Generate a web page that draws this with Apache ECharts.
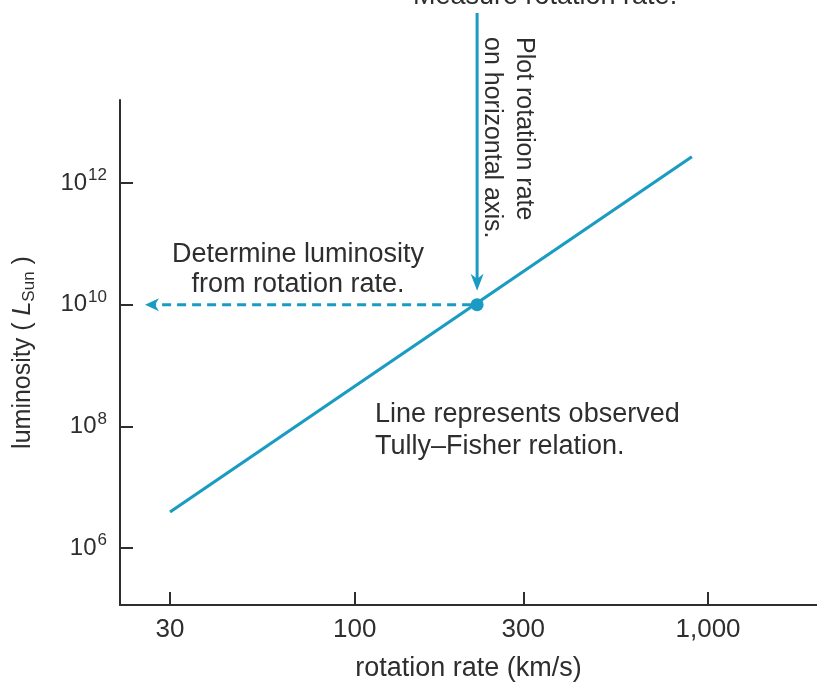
<!DOCTYPE html>
<html>
<head>
<meta charset="utf-8">
<script src="https://cdn.jsdelivr.net/npm/echarts@6/dist/echarts.min.js"></script>
<style>
  html, body { margin: 0; padding: 0; background: #fff; }
  #container { width: 817px; height: 687px; }
</style>
</head>
<body>
<div id="container"></div>
<script>
'use strict';

// tick values on the two log axes
let rotationTicks = [30, 100, 300, 1000];
let luminosityTicks = [1e6, 1e8, 1e10, 1e12];

// observed Tully-Fisher line, end points
let relationSpeed = [30, 900];
let relationLum = [3.9e6, 2.7e12];

// the example galaxy
let galaxySpeed = [222];
let galaxyLum = [1e10];

let teal = '#1a9cc2';
let ink = '#2e2e2e';
let font = "'Liberation Sans', Arial, sans-serif";

function lg(v) {
  return Math.log10(v);
}

function pairs(xs, ys) {
  return xs.map(function(x, i) { return [lg(x), lg(ys[i])]; });
}

function getOptions() {
  return {
    animation: false,
    grid: { left: 120, right: 0, top: 100, bottom: 82 },
    xAxis: {
      type: 'value',
      min: 1.3356,
      max: 3.3084,
      name: 'rotation rate (km/s)',
      nameLocation: 'middle',
      nameGap: 50,
      nameTextStyle: { fontSize: 27, color: ink, fontFamily: font },
      splitLine: { show: false },
      axisLine: { lineStyle: { color: ink, width: 2 } },
      axisTick: {
        inside: true, length: 13,
        customValues: rotationTicks.map(lg),
        lineStyle: { color: ink, width: 2 }
      },
      axisLabel: {
        customValues: rotationTicks.map(lg),
        margin: 12,
        fontSize: 26,
        color: ink,
        fontFamily: font,
        formatter: function(v) {
          return Math.round(Math.pow(10, v)).toLocaleString('en-US');
        }
      }
    },
    yAxis: {
      type: 'value',
      min: 5.063,
      max: 13.364,
      name: 'luminosity ( {i|L}{sub|Sun} )',
      nameLocation: 'middle',
      nameGap: 82,
      nameRotate: 90,
      nameTextStyle: {
        fontSize: 25, color: ink, fontFamily: font,
        rich: {
          i: { fontSize: 25, fontStyle: 'italic', color: ink, fontFamily: font },
          sub: { fontSize: 17, color: ink, fontFamily: font, padding: [12, 0, 0, 0] }
        }
      },
      splitLine: { show: false },
      axisLine: { lineStyle: { color: ink, width: 2 } },
      axisTick: {
        inside: true, length: 13,
        customValues: luminosityTicks.map(lg),
        lineStyle: { color: ink, width: 2 }
      },
      axisLabel: {
        customValues: luminosityTicks.map(lg),
        margin: 13,
        color: ink,
        fontFamily: font,
        formatter: function(v) {
          return '{b|10}{sup|' + Math.round(v) + '}';
        },
        rich: {
          b: { fontSize: 24, color: ink, fontFamily: font },
          sup: { fontSize: 17, color: ink, fontFamily: font, padding: [0, 0, 15, 1] }
        }
      }
    },
    series: [{
      type: 'line',
      data: pairs(relationSpeed, relationLum),
      symbol: 'none',
      lineStyle: { color: teal, width: 3.2 },
      z: 2
    }, {
      type: 'scatter',
      data: pairs(galaxySpeed, galaxyLum),
      symbolSize: 13,
      itemStyle: { color: teal, opacity: 1 },
      z: 3
    }]
  };
}

function getAnnotations(chart) {
  let p = chart.convertToPixel({ gridIndex: 0 }, [lg(galaxySpeed[0]), lg(galaxyLum[0])]);
  let px = p[0], py = p[1];
  let leftTip = 145;
  let textStyle = { fill: ink, font: '27px ' + font };
  return [
    // vertical arrow: measure the rotation rate
    { type: 'line', shape: { x1: px, y1: 13, x2: px, y2: py - 20 },
      style: { stroke: teal, lineWidth: 3 } },
    { type: 'polygon', shape: { points: [[px, py - 14], [px - 6.5, py - 31], [px, py - 26], [px + 6.5, py - 31]] },
      style: { fill: teal } },
    // dashed arrow: read the luminosity
    { type: 'line', shape: { x1: px - 6, y1: py, x2: leftTip + 8, y2: py },
      style: { stroke: teal, lineWidth: 3, lineDash: [9, 6] } },
    { type: 'polygon', shape: { points: [[leftTip, py], [leftTip + 14, py - 6.5], [leftTip + 10, py], [leftTip + 14, py + 6.5]] },
      style: { fill: teal } },
    { type: 'text', x: 413, y: -3,
      style: Object.assign({ text: 'Measure rotation rate.', textAlign: 'left', textVerticalAlign: 'middle' }, textStyle) },
    { type: 'text', x: 540, y: 37, rotation: -Math.PI / 2,
      style: { text: 'Plot rotation rate\non horizontal axis.', fill: ink, font: '25px ' + font,
        lineHeight: 32, textAlign: 'left', textVerticalAlign: 'top' } },
    { type: 'text', x: 298, y: 270,
      style: Object.assign({ text: 'Determine luminosity\nfrom rotation rate.', lineHeight: 30,
        textAlign: 'center', textVerticalAlign: 'middle' }, textStyle) },
    { type: 'text', x: 375, y: 431,
      style: Object.assign({ text: 'Line represents observed\nTully\u2013Fisher relation.', lineHeight: 32,
        textAlign: 'left', textVerticalAlign: 'middle' }, textStyle) }
  ];
}

let dom = document.getElementById('container');
let myChart = echarts.init(dom, null, { renderer: 'canvas' });
myChart.setOption(getOptions());
myChart.setOption({ graphic: getAnnotations(myChart) });
</script>
</body>
</html>
